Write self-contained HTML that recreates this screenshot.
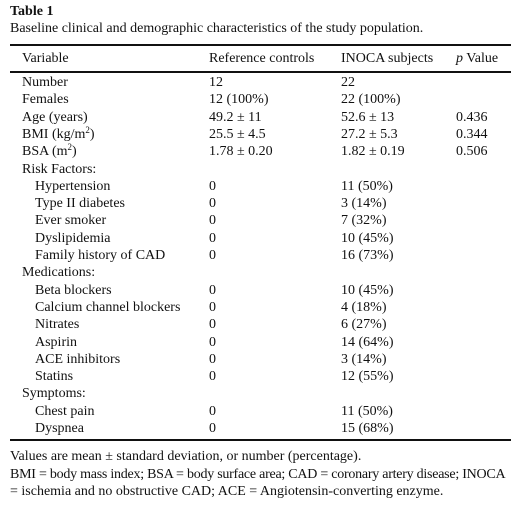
<!DOCTYPE html>
<html><head><meta charset="utf-8"><style>
body{margin:0;width:527px;height:510px;background:#fff;font-family:"Liberation Serif",serif;font-size:14px;color:#111;position:relative;overflow:hidden}
.a{position:absolute;white-space:nowrap;line-height:16px}
sup{font-size:9px;line-height:0;vertical-align:5px}
.r{position:absolute;left:10px;width:501px;background:#111}
</style></head><body>
<div class="a" style="left:10px;top:4px;font-weight:bold">Table 1</div>
<div class="a" style="left:10px;top:21px">Baseline clinical and demographic characteristics of the study population.</div>
<div class="r" style="top:44px;height:2px"></div>
<div class="a" style="left:22px;top:51px">Variable</div>
<div class="a" style="left:209px;top:51px">Reference controls</div>
<div class="a" style="left:341px;top:51px">INOCA subjects</div>
<div class="a" style="left:456px;top:51px"><i>p</i> Value</div>
<div class="r" style="top:71px;height:1.5px"></div>
<div id="rows"></div>
<div class="r" style="top:439px;height:2px"></div>
<div class="a" style="left:10px;top:449px">Values are mean ± standard deviation, or number (percentage).</div>
<div class="a" style="left:10px;top:467px;letter-spacing:-0.25px">BMI = body mass index; BSA = body surface area; CAD = coronary artery disease; INOCA</div>
<div class="a" style="left:10px;top:484px">= ischemia and no obstructive CAD; ACE = Angiotensin-converting enzyme.</div>
<script>
const labels=["Number","Females","Age (years)","BMI (kg/m<sup>2</sup>)","BSA (m<sup>2</sup>)","Risk Factors:","Hypertension","Type II diabetes","Ever smoker","Dyslipidemia","Family history of CAD","Medications:","Beta blockers","Calcium channel blockers","Nitrates","Aspirin","ACE inhibitors","Statins","Symptoms:","Chest pain","Dyspnea"];
const indent=[0,0,0,0,0,0,1,1,1,1,1,0,1,1,1,1,1,1,0,1,1];
const refVals=["12","12 (100%)","49.2 ± 11","25.5 ± 4.5","1.78 ± 0.20","","0","0","0","0","0","","0","0","0","0","0","0","","0","0"];
const inocaVals=["22","22 (100%)","52.6 ± 13","27.2 ± 5.3","1.82 ± 0.19","","11 (50%)","3 (14%)","7 (32%)","10 (45%)","16 (73%)","","10 (45%)","4 (18%)","6 (27%)","14 (64%)","3 (14%)","12 (55%)","","11 (50%)","15 (68%)"];
const pVals=["","","0.436","0.344","0.506","","","","","","","","","","","","","","","",""];
const host=document.getElementById('rows');
function cell(x,y,html,name){const d=document.createElement('div');d.className='a';d.style.left=x+'px';d.style.top=y+'px';d.innerHTML=html;


host.appendChild(d);}
labels.forEach((l,i)=>{const y=75+i*17.3;
cell(indent[i]?35:22,y,l,'row-label');
if(refVals[i])cell(209,y,refVals[i],'reference-value');
if(inocaVals[i])cell(341,y,inocaVals[i],'inoca-value');
if(pVals[i])cell(456,y,pVals[i],'p-value');});
</script>
</body></html>
